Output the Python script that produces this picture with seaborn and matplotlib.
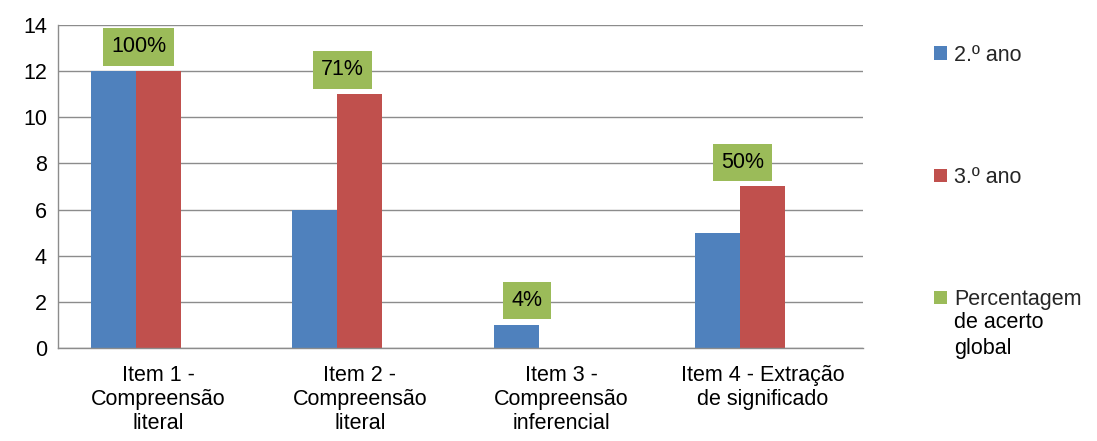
import numpy as np
import pandas as pd
import matplotlib.pyplot as plt
import seaborn as sns

sns.set_theme(style="white")
plt.rcParams['font.family'] = ['Liberation Sans', 'DejaVu Sans']

# Dados
itens = ['Item 1 -\nCompreensão\nliteral', 'Item 2 -\nCompreensão\nliteral',
         'Item 3 -\nCompreensão\ninferencial', 'Item 4 - Extração\nde significado']
series = ['2.º ano', '3.º ano', 'Percentagem']
ano2 = [12, 6, 1, 5]
ano3 = [12, 11, 0, 7]
global_vals = [0, 0, 0, 0]
percent_labels = ['100%', '71%', '4%', '50%']
cores = ['#4F81BD', '#C0504D', '#9BBB59']

df = pd.DataFrame({
    'Item': itens * 3,
    'Serie': [series[0]] * 4 + [series[1]] * 4 + [series[2]] * 4,
    'Valor': ano2 + ano3 + global_vals,
})

fs = 15.5
fig = plt.figure(figsize=(10.97, 4.41), dpi=100)
ax = fig.add_axes([0.0529, 0.2109, 0.7338, 0.7324])

sns.barplot(data=df, x='Item', y='Valor', hue='Serie', hue_order=series,
            palette=cores, saturation=1, width=0.671, linewidth=0, ax=ax)

ax.set_ylim(0, 14)
ax.set_yticks(np.arange(0, 15, 2))
ax.set_xlim(-0.5, 3.5)
ax.yaxis.grid(True, color='#8C8C8C', linewidth=1)
ax.set_axisbelow(True)
for s in ['top', 'right']:
    ax.spines[s].set_visible(False)
for s in ['left', 'bottom']:
    ax.spines[s].set_color('#8C8C8C')
    ax.spines[s].set_linewidth(1)
ax.tick_params(axis='both', length=0, labelsize=fs, colors='black')
ax.tick_params(axis='y', pad=8)
ax.tick_params(axis='x', pad=12)
for lab in ax.get_xticklabels():
    lab.set_linespacing(1.2)
ax.set_xlabel('')
ax.set_ylabel('')

# Rótulos de percentagem
offsets = [-0.10, -0.086, -0.17, -0.10]
alturas = [max(a, b) for a, b in zip(ano2, ano3)]
for i, txt in enumerate(percent_labels):
    ax.text(i + offsets[i], alturas[i] + 1.05, txt, ha='center', va='center',
            fontsize=fs, color='black',
            bbox=dict(boxstyle='square,pad=0.38', facecolor='#9BBB59', edgecolor='none'))

handles, labels = ax.get_legend_handles_labels()
leg = ax.legend(handles, labels, loc='upper left', bbox_to_anchor=(0.844, 0.918),
                bbox_transform=fig.transFigure, frameon=False, fontsize=fs,
                handlelength=0.6, handleheight=0.6, handletextpad=0.3,
                labelspacing=4.7, borderaxespad=0)

# restantes linhas do rótulo da legenda
fig.canvas.draw()
bb = leg.get_texts()[2].get_window_extent().transformed(fig.transFigure.inverted())
fig.text(bb.x0, bb.y0 - 2 / 441, 'de acerto\nglobal', ha='left', va='top',
         fontsize=fs, color='black', linespacing=1.33)

fig.savefig('out.png', dpi=100)
